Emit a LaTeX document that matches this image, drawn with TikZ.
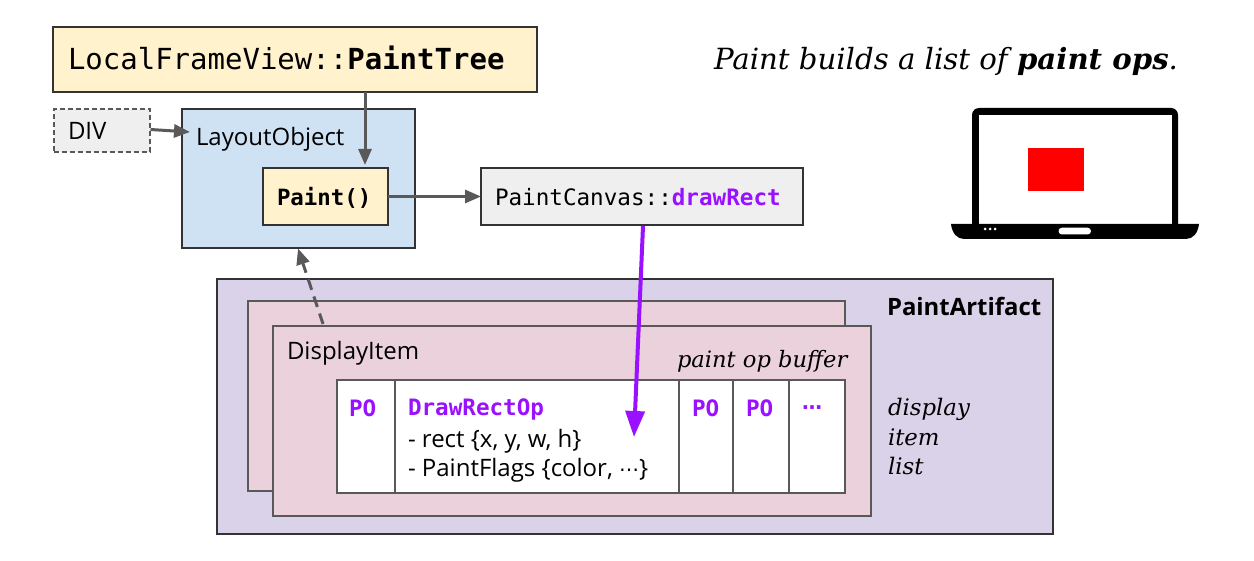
\documentclass[tikz,border=0pt]{standalone}
\usepackage{fontspec}
\setmainfont{Open Sans}
\setmonofont{DejaVu Sans Mono}
\newfontfamily\serifit{DejaVu Serif}
\newfontfamily\dejasans{DejaVu Sans}
\usetikzlibrary{arrows.meta}
\definecolor{edge}{HTML}{595959}
\definecolor{ink}{HTML}{333333}
\definecolor{cream}{HTML}{FFF2CC}
\definecolor{pale}{HTML}{EFEFEF}
\definecolor{bluebox}{HTML}{CFE2F3}
\definecolor{lilac}{HTML}{D9D2E9}
\definecolor{rosebox}{HTML}{EAD1DC}
\definecolor{violet}{HTML}{9911FF}
\newcommand{\sz}[1]{\fontsize{#1}{#1}\selectfont}
\tikzset{
  box/.style={draw=#1,rectangle,inner sep=0pt,outer sep=0pt,line width=1.1pt},
  box/.default=ink,
  thickbox/.style={draw=edge,rectangle,inner sep=0pt,outer sep=0pt,line width=2.7pt,fill=rosebox},
  txt/.style={inner sep=0pt,outer sep=0pt,anchor=base west,text=black},
  conn/.style={draw=edge,line width=3pt,-{Triangle[length=16pt,width=13pt]}},
  cell/.style={draw=edge,fill=white,rectangle,inner sep=0pt,outer sep=0pt,line width=1.2pt,minimum height=113pt},
  po/.style={txt,text=violet,font=\ttfamily\bfseries\sz{22.6}},
  serifnote/.style={txt,font=\serifit\itshape\sz{22.6}},
  rowlabel/.style={txt,font=\serifit\itshape\sz{22.8}},
  sanslabel/.style={txt,font=\sz{24}},
}
\begin{document}
\begin{tikzpicture}[x=1pt,y=-1pt]
\useasboundingbox (0,0) rectangle (1254,561);
\fill[white] (0,0) rectangle (1254,561);
% boxes
\node[box,fill=cream,minimum width=484pt,minimum height=65pt] (title) at (295,59.5) {};
\node[txt,font=\ttfamily\sz{29}] (titletext) at (68,70) {LocalFrameView::\textbf{PaintTree}};
\node[box=edge,fill=pale,dash pattern=on 5pt off 3pt,minimum width=96pt,minimum height=43pt] (div) at (102,130.5) {};
\node[sanslabel] (divtext) at (68,140) {DIV};
\node[box,fill=bluebox,minimum width=233pt,minimum height=139pt] (layout) at (298.5,178.5) {};
\node[sanslabel] (layouttext) at (196,146) {LayoutObject};
\node[box,fill=cream,minimum width=125pt,minimum height=57pt] (paint) at (325.5,196.5) {};
\node[txt,font=\ttfamily\bfseries\sz{22.4}] (painttext) at (277,205.5) {Paint()};
\node[box,fill=pale,minimum width=322pt,minimum height=57pt] (canvas) at (642,196.5) {};
\node[txt,font=\ttfamily\sz{22.6}] (canvastext) at (495,205.5) {PaintCanvas::\textcolor{violet}{\textbf{drawRect}}};
\node[txt,font=\serifit\itshape\sz{29.2}] (headline) at (714,70) {Paint builds a list of \textbf{paint ops}.};
% artifact
\node[box,fill=lilac,minimum width=836pt,minimum height=255pt] (artifact) at (635,406.5) {};
\node[txt,font=\bfseries\sz{23.9}] (artifacttext) at (887,316) {PaintArtifact};
\node[thickbox,minimum width=597pt,minimum height=190pt] (back) at (546.5,396) {};
\node[thickbox,minimum width=598pt,minimum height=190pt] (front) at (572,421) {};
\node[sanslabel] (itemtext) at (287,360) {DisplayItem};
\node[serifnote] (buffertext) at (677,368) {paint op buffer};
% buffer cells
\node[cell,minimum width=58pt] (c1) at (366,436.5) {};
\node[cell,minimum width=284pt] (c2) at (537,436.5) {};
\node[cell,minimum width=54pt] (c3) at (706,436.5) {};
\node[cell,minimum width=56pt] (c4) at (761,436.5) {};
\node[cell,minimum width=56pt] (c5) at (817,436.5) {};
\node[po] (po1) at (349,417) {PO};
\node[po] (drawop) at (408,416) {DrawRectOp};
\node[sanslabel] (rect) at (408,447) {- rect \{x, y, w, h\}};
\node[sanslabel] (flags) at (408,476) {- PaintFlags \{color, {\dejasans\sz{20}⋯}\}};
\node[po] (po2) at (692,417) {PO};
\node[po] (po3) at (746,417) {PO};
\node[po,font=\dejasans\bfseries\sz{20}] (po4) at (802,415) {⋯};
\node[rowlabel] (l1) at (888,416) {display};
\node[rowlabel] (l2) at (888,446) {item};
\node[rowlabel] (l3) at (888,475) {list};
% connector ends
\coordinate (divout) at (150.5,129.5);
\coordinate (layin) at (190,132);
\coordinate (titleout) at (365,92);
\coordinate (paintin) at (365,165);
\coordinate (itemout) at (323,324);
\coordinate (layoutin) at (298,248.5);
\coordinate (canvasout) at (643,226);
\coordinate (opin) at (634,437);
\draw[conn] (divout) -- (layin);
\draw[conn] (titleout) -- (paintin);
\draw[conn] (paint.east) -- (canvas.west);
\draw[conn,dash pattern=on 11pt off 7pt] (itemout) -- (layoutin);
\draw[draw=violet,line width=4pt,-{Triangle[length=26pt,width=19pt]}] (canvasout) -- (opin);
% laptop
\fill[black,rounded corners=7pt] (972,235) -- (972,108) -- (1178,108) -- (1178,235) -- cycle;
\fill[white] (978.5,114.7) rectangle (1171.5,225);
\fill[red] (1027.7,148) rectangle (1083.5,190.7);
\fill[black] (951,224) -- (1199,224) .. controls (1198,233) and (1193,239) .. (1186,239) -- (964,239) .. controls (957,239) and (952,233) .. (951,224) -- cycle;
\fill[white] (985,229) circle (1.5pt) (990,229) circle (1.5pt) (995,229) circle (1.5pt);
\fill[white,rounded corners=3.4pt] (1058.5,227.7) rectangle (1091,234.5);
\end{tikzpicture}
\end{document}
